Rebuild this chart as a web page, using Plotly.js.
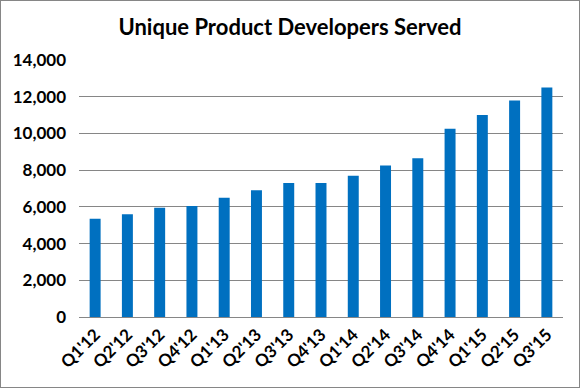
<!DOCTYPE html>
<html>
<head>
<meta charset="utf-8">
<script src="https://cdn.plot.ly/plotly-3.0.1.min.js"></script>
<style>
  html, body { margin: 0; padding: 0; background: #fff; }
  #wrap { position: relative; width: 580px; height: 388px; }
  #chart { width: 580px; height: 388px; }
  #frame { position: absolute; left: 0; top: 0; width: 578px; height: 386px; border: 1px solid #868686; pointer-events: none; }
</style>
</head>
<body>
<div id="wrap">
  <div id="chart"></div>
  <div id="frame"></div>
</div>
<script>
const quarters = ["Q1'12","Q2'12","Q3'12","Q4'12","Q1'13","Q2'13","Q3'13","Q4'13","Q1'14","Q2'14","Q3'14","Q4'14","Q1'15","Q2'15","Q3'15"];
const developers = [5350, 5600, 5950, 6050, 6500, 6900, 7300, 7300, 7700, 8250, 8650, 10250, 11000, 11800, 12500];
const yTicks = [0, 2000, 4000, 6000, 8000, 10000, 12000, 14000];
const yTickLabels = ["0", "2,000", "4,000", "6,000", "8,000", "10,000", "12,000", "14,000"];
const chartTitle = "Unique Product Developers Served";

const fontFamily = "Lato, 'Liberation Sans', sans-serif";

const data = [{
  type: 'bar',
  x: quarters,
  y: developers,
  marker: { color: '#0070C0', line: { width: 0 } },
  hoverinfo: 'x+y'
}];

const layout = {
  width: 580,
  height: 388,
  margin: { l: 79, r: 17, t: 60, b: 71 },
  paper_bgcolor: '#ffffff',
  plot_bgcolor: '#ffffff',
  bargap: 0.66,
  showlegend: false,
  title: {
    text: '<b>' + chartTitle + '</b>',
    x: 0.5,
    xanchor: 'center',
    xref: 'container',
    y: 1 - 27 / 388,
    yanchor: 'middle',
    yref: 'container',
    font: { family: fontFamily, size: 22, color: '#000000' }
  },
  xaxis: {
    type: 'category',
    showgrid: false,
    showline: true,
    linecolor: '#868686',
    linewidth: 1,
    ticks: '',
    tickangle: -45,
    tickfont: { family: fontFamily, size: 17, color: '#000000', weight: 'bold' },
    zeroline: false
  },
  yaxis: {
    range: [0, 14000],
    tickvals: yTicks,
    ticktext: yTickLabels,
    showgrid: true,
    gridcolor: '#868686',
    gridwidth: 1,
    showline: false,
    zeroline: false,
    ticks: '',
    ticklabelstandoff: 12,
    tickfont: { family: fontFamily, size: 17, color: '#000000', weight: 'bold' }
  }
};

Plotly.newPlot('chart', data, layout, { displayModeBar: false, staticPlot: true });
</script>
</body>
</html>
